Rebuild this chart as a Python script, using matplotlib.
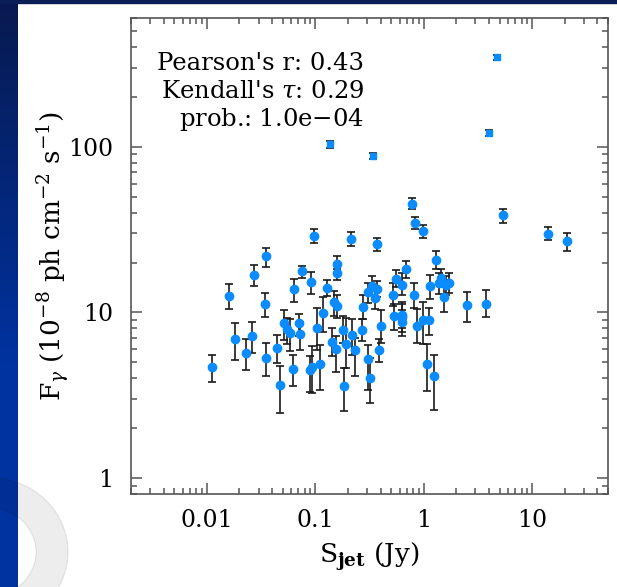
import numpy as np
import matplotlib
matplotlib.use('Agg')
import matplotlib.pyplot as plt
from matplotlib.patches import Rectangle, Wedge
from matplotlib.ticker import FixedLocator, NullFormatter, FuncFormatter

plt.rcParams['font.family'] = ['DejaVu Serif']
plt.rcParams['mathtext.fontset'] = 'dejavuserif'

# bright sources (square markers)
x_sq = [0.137, 0.343, 3.98, 4.71]
y_sq = [104, 88, 121, 347]
lo_sq = [99, 84, 116, 336]
hi_sq = [109, 92, 126, 358]

# the rest (circle markers): S_jet, F_gamma, lower and upper error limits
x_pt = [0.0111, 0.0161, 0.0181, 0.0231, 0.0261, 0.0272, 0.0352, 0.0343, 0.0352, 0.0443,
        0.0471, 0.0513, 0.0547, 0.058, 0.0627, 0.0636, 0.0706, 0.0723, 0.0753, 0.0906,
        0.0966, 0.103, 0.1106, 0.094, 0.0902, 0.117, 0.127, 0.149, 0.157, 0.160,
        0.158, 0.143, 0.154, 0.184, 0.180, 0.194, 0.218, 0.231, 0.214, 0.274,
        0.269, 0.305, 0.307, 0.318, 0.337, 0.367, 0.359, 0.372, 0.402, 0.385,
        0.522, 0.550, 0.534, 0.633, 0.632, 0.632, 0.632, 0.681, 0.773, 0.834,
        0.984, 0.807, 0.865, 0.99, 1.11, 1.08, 1.24, 1.135, 1.29, 1.37,
        1.44, 1.54, 1.61, 1.72, 2.49, 3.72, 5.33, 14.0, 20.9]
y_pt = [4.70, 12.6, 6.92, 5.72, 7.22, 16.9, 21.8, 11.3, 5.33, 6.12,
        3.62, 8.57, 7.90, 7.52, 4.58, 13.8, 8.65, 7.37, 17.7, 15.3,
        29.1, 8.0, 4.87, 4.71, 4.49, 9.85, 14.0, 11.5, 11.0, 19.6,
        17.4, 6.59, 6.03, 3.59, 7.87, 6.44, 7.27, 5.89, 27.9, 10.8,
        7.84, 13.3, 5.22, 4.02, 14.4, 13.8, 12.2, 25.9, 8.24, 5.95,
        12.8, 16.0, 9.48, 14.7, 9.7, 9.35, 8.72, 18.2, 45.1, 34.7,
        30.9, 12.8, 8.32, 9.05, 8.97, 4.91, 4.13, 14.4, 20.7, 15.0,
        16.2, 12.4, 14.6, 15.1, 11.1, 11.3, 38.7, 29.9, 26.9]
lo_pt = [3.80, 10.5, 5.17, 4.51, 5.70, 14.5, 18.9, 9.4, 4.13, 4.94,
         2.47, 6.84, 6.44, 5.86, 3.57, 11.6, 7.2, 5.9, 16.2, 13.0,
         26.3, 5.95, 3.40, 3.24, 3.32, 7.58, 12.6, 9.5, 9.2, 18.4,
         15.8, 5.42, 4.39, 2.54, 6.53, 4.60, 5.55, 4.13, 25.2, 9.14,
         6.68, 11.4, 3.40, 2.82, 12.8, 12.4, 10.5, 23.6, 6.53, 5.01,
         10.9, 14.3, 7.87, 12.8, 8.0, 7.6, 7.2, 16.2, 41.9, 31.9,
         28.0, 10.7, 6.53, 6.44, 7.34, 3.37, 2.57, 12.1, 18.2, 13.0,
         14.3, 10.0, 12.7, 13.1, 8.72, 9.4, 34.9, 27.5, 23.6]
hi_pt = [5.55, 14.8, 8.68, 6.94, 8.80, 19.2, 24.5, 13.1, 6.50, 7.31,
         4.77, 10.3, 9.2, 9.06, 5.55, 16.0, 9.8, 8.8, 19.1, 17.6,
         31.9, 10.6, 6.35, 6.23, 5.42, 12.4, 15.8, 13.5, 12.8, 22.0,
         19.0, 8.06, 7.17, 4.64, 9.48, 9.27, 9.18, 7.0, 30.7, 12.8,
         9.14, 15.1, 6.38, 5.30, 16.6, 15.4, 14.0, 28.0, 10.3, 6.91,
         15.1, 18.1, 11.2, 17.4, 11.6, 11.2, 10.4, 20.4, 49.1, 37.6,
         33.8, 15.0, 10.5, 11.6, 10.7, 6.47, 5.55, 16.8, 23.4, 17.3,
         18.3, 15.8, 16.6, 17.2, 13.3, 13.6, 41.9, 32.7, 30.2]

stats_lines = ["Pearson's r: 0.43", r"Kendall's $\tau$: 0.29", "prob.: 1.0e$-$04"]

fig = plt.figure(figsize=(6.17, 5.87), dpi=100)

# slide background: blue strip on the left, thin navy band on top, faint ring
bg = fig.add_axes([0, 0, 18 / 617, 1], zorder=-5)
grad = np.linspace(0, 1, 256).reshape(-1, 1)
top_c = np.array([0.03, 0.10, 0.31])
bot_c = np.array([0.0, 0.20, 0.63])
img = top_c + (bot_c - top_c) * np.clip(grad * 1.6, 0, 1)[:, :, None]
bg.imshow(img, aspect='auto', extent=[0, 1, 0, 1])
bg.set_axis_off()
fig.patches.append(Rectangle((0, 1 - 3 / 587), 1, 3 / 587, transform=fig.transFigure,
                             color='#0b1d55', zorder=-4))
fig.patches.append(Wedge((-10 / 617, 1 - 552 / 587), 78 / 617, 0, 360, width=32 / 617,
                         transform=fig.transFigure, color='black', alpha=0.07, zorder=-3))

ax = fig.add_axes([131 / 617, 1 - 494 / 587, 477 / 617, 476 / 587])
ax.set_xscale('log')
ax.set_yscale('log')

ax.errorbar(x_pt, y_pt,
            yerr=[np.array(y_pt) - np.array(lo_pt), np.array(hi_pt) - np.array(y_pt)],
            fmt='o', ms=6, color='#0a8cff', mec='#0a8cff', ecolor='#1a1a1a',
            elinewidth=1.2, capsize=2.6, capthick=1.2)
ax.errorbar(x_sq, y_sq,
            yerr=[np.array(y_sq) - np.array(lo_sq), np.array(hi_sq) - np.array(y_sq)],
            fmt='s', ms=5, color='#0a8cff', mec='#0a8cff', ecolor='#1a1a1a',
            elinewidth=1.2, capsize=2.6, capthick=1.2)

ax.set_xlim(0.002, 50)
ax.set_ylim(0.8, 600)

ax.xaxis.set_major_locator(FixedLocator([0.01, 0.1, 1, 10]))
ax.xaxis.set_minor_locator(FixedLocator([m * 10.0 ** e for e in range(-3, 2) for m in range(2, 10)]))
ax.yaxis.set_major_locator(FixedLocator([1, 10, 100]))
ax.yaxis.set_minor_locator(FixedLocator([m * 10.0 ** e for e in range(-1, 3) for m in range(2, 10)]))
ax.xaxis.set_major_formatter(FuncFormatter(lambda v, p: '%g' % v))
ax.yaxis.set_major_formatter(FuncFormatter(lambda v, p: '%g' % v))
ax.xaxis.set_minor_formatter(NullFormatter())
ax.yaxis.set_minor_formatter(NullFormatter())

for s in ax.spines.values():
    s.set_color('#555555')
    s.set_linewidth(1.2)
ax.tick_params(which='both', direction='in', top=True, right=True, color='#555555', width=1.1)
ax.tick_params(which='major', length=8, labelsize=17, pad=11)
ax.tick_params(which='minor', length=4.5)
ax.tick_params(axis='y', which='major', pad=13)

ax.set_xlabel(r'S$_{\mathbf{jet}}$ (Jy)', fontsize=19)
ax.set_ylabel(r'F$_\gamma$ (10$^{-8}$ ph cm$^{-2}$ s$^{-1}$)', fontsize=19)
ax.xaxis.set_label_coords(0.5, -0.132)
ax.xaxis.label.set_va('center')
ax.yaxis.set_label_coords(-0.162, 0.5)
ax.yaxis.label.set_va('center')

for i, line in enumerate(stats_lines):
    ax.text(0.488, 0.905 - i * 0.059, line, transform=ax.transAxes,
            ha='right', va='center', fontsize=17.5)

fig.savefig('out.png', dpi=100)
